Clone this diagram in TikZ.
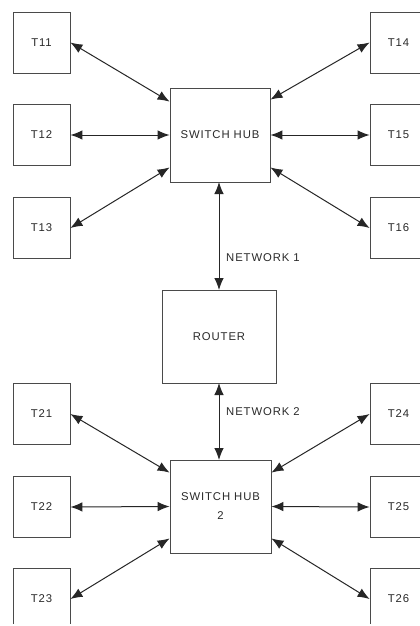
\documentclass[tikz,border=0pt]{standalone}
\usepackage{fontspec}
\setmainfont{Liberation Sans}[LetterSpace=8]
\usetikzlibrary{arrows.meta}
\definecolor{boxline}{HTML}{4A4A4A}
\definecolor{txt}{HTML}{2A2A2A}
\begin{document}
\begin{tikzpicture}[x=1pt,y=-1pt,
  term/.style={draw=boxline, line width=0.8pt, minimum width=57pt, minimum height=61pt, inner sep=0pt, text=txt, font=\fontsize{11.3}{19}\selectfont},
  bigbox/.style={draw=boxline, line width=0.8pt, minimum width=100pt, minimum height=94pt, inner sep=0pt, text=txt, align=center, font=\fontsize{11.3}{19}\selectfont},
  link/.style={line width=1pt, draw=black!85, {Latex[length=12pt,width=9.5pt]}-{Latex[length=12pt,width=9.5pt]}},
  lbl/.style={anchor=west, inner sep=0pt, text=txt, font=\fontsize{11.3}{12}\selectfont}]
\useasboundingbox (0,0) rectangle (420,626);
\fill[white] (0,0) rectangle (420,626);
\begin{scope}
\clip (0,0) rectangle (420,623);
% hubs and router
\node[bigbox] (hub1) at (220,135) {SWITCH HUB};
\node[bigbox, minimum width=114pt, minimum height=93pt] (router) at (219,336.5) {ROUTER};
\node[bigbox, minimum width=101pt, minimum height=93pt] (hub2) at (220.5,506.5) {SWITCH HUB\\2};
% left terminals
\node[term] (t11) at (41.5,42.5) {T11};
\node[term] (t12) at (41.5,135) {T12};
\node[term] (t13) at (41.5,228) {T13};
\node[term] (t21) at (41.5,414) {T21};
\node[term] (t22) at (41.5,507) {T22};
\node[term] (t23) at (41.5,599) {T23};
% right terminals
\node[term] (t14) at (398.5,42.5) {T14};
\node[term] (t15) at (398.5,135) {T15};
\node[term] (t16) at (398.5,228) {T16};
\node[term] (t24) at (398.5,414) {T24};
\node[term] (t25) at (398.5,507) {T25};
\node[term] (t26) at (398.5,599) {T26};
\end{scope}
% connectors, top group
\draw[link] (t11.east) -- ([yshift=-14pt]hub1.north west);
\draw[link] (t12.east) -- (hub1.west);
\draw[link] (t13.east) -- ([yshift=15pt]hub1.south west);
\draw[link] (t14.west) -- ([yshift=-12pt]hub1.north east);
\draw[link] (t15.west) -- (hub1.east);
\draw[link] (t16.west) -- ([yshift=15pt]hub1.south east);
% connectors, bottom group
\draw[link] (t21.east) -- ([yshift=-13pt]hub2.north west);
\draw[link] (t22.east) -- (hub2.west);
\draw[link] (t23.east) -- ([yshift=15pt]hub2.south west);
\draw[link] (t24.west) -- ([yshift=-13pt]hub2.north east);
\draw[link] (t25.west) -- (hub2.east);
\draw[link] (t26.west) -- ([yshift=15pt]hub2.south east);
% networks
\coordinate (n1a) at (219,182);
\coordinate (n1b) at (219,290);
\coordinate (n2a) at (219,383);
\coordinate (n2b) at (219,460);
\draw[link] (n1a) -- (n1b);
\draw[link] (n2a) -- (n2b);
\node[lbl] (net1) at (226,258) {NETWORK 1};
\node[lbl] (net2) at (226,412) {NETWORK 2};
\end{tikzpicture}
\end{document}
